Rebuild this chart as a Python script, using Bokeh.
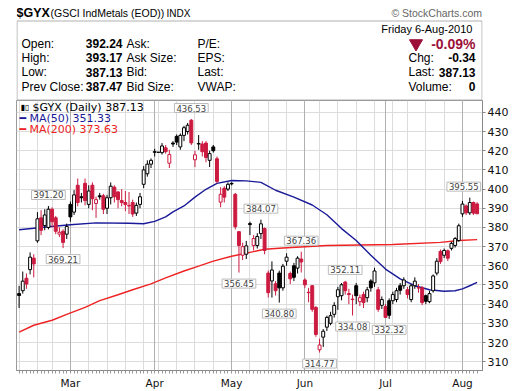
import numpy as np
from bokeh.plotting import figure
from bokeh.models import Range1d, FixedTicker, Grid, Label
from bokeh.layouts import column
from bokeh.embed import file_html
from bokeh.resources import INLINE
from bokeh.core.properties import value

# ---------------- data ----------------
prior_close = 343.0
opens = [345.5, 347.0, 353.5, 358.0, 364.0, 373.0, 385.0, 381.0, 380.0, 389.5,
         385.0, 376.5, 378.0, 376.5, 392.0, 388.0, 402.0, 396.0, 403.0, 392.0,
         402.0, 392.5, 396.5, 396.5, 390.0, 395.5, 401.0, 398.5, 394.0, 393.0,
         391.5, 393.0, 387.5, 392.0, 402.5, 408.0, 413.0, 419.5, 419.2, 419.0,
         421.5, 413.5, 424.0, 427.5, 422.0, 428.0, 430.0, 435.9, 415.3, 423.8,
         423.5, 424.0, 415.0, 422.0, 415.8, 393.2, 400.4, 400.0, 403.0, 397.3,
         377.8, 365.5, 366.0, 382.0, 370.6, 370.6, 376.8, 379.4, 356.2, 352.1,
         350.6, 356.2, 348.5, 362.4, 356.0, 360.0, 358.8, 363.5, 352.6, 346.2,
         349.6, 338.3, 316.2, 322.8, 328.0, 330.0, 334.7, 343.9, 344.4, 351.5,
         345.5, 342.6, 349.6, 341.3, 345.0, 343.4, 352.1, 351.1, 347.5, 339.4,
         338.8, 341.8, 341.8, 342.4, 349.6, 349.6, 347.5, 342.4, 349.6, 348.6,
         348.5, 344.4, 341.3, 347.0, 356.2, 367.5, 365.5, 367.8, 369.1, 370.6,
         373.2, 387.1, 391.2, 387.6, 393.0, 392.24]
highs = [349.5, 357.0, 356.0, 367.0, 366.0, 388.0, 389.0, 389.5, 391.2, 390.5,
         386.0, 380.0, 379.0, 382.0, 393.5, 399.5, 405.5, 398.0, 405.5, 402.0,
         403.5, 396.0, 398.0, 397.5, 397.0, 403.5, 402.0, 399.0, 400.0, 399.0,
         398.5, 394.5, 393.0, 398.0, 412.0, 415.0, 416.0, 421.0, 419.2, 424.0,
         423.0, 420.5, 425.0, 428.5, 429.0, 433.0, 434.5, 436.53, 420.0, 428.2,
         425.0, 425.0, 420.0, 423.0, 417.0, 401.0, 401.5, 403.5, 403.5, 398.0,
         378.0, 372.0, 373.0, 383.0, 376.0, 377.0, 384.07, 380.0, 357.5, 362.3,
         352.0, 357.5, 361.0, 366.5, 357.0, 361.5, 365.0, 367.36, 353.5, 348.5,
         350.0, 339.0, 322.0, 327.0, 334.0, 336.0, 341.0, 349.0, 351.0, 352.11,
         348.0, 345.0, 351.0, 345.0, 346.5, 349.0, 353.0, 359.0, 349.0, 344.0,
         340.0, 343.0, 346.5, 348.5, 351.0, 354.0, 349.0, 350.5, 354.0, 350.5,
         349.5, 345.0, 347.0, 355.5, 364.0, 368.5, 369.0, 368.5, 372.5, 375.0,
         382.0, 393.8, 392.0, 395.55, 393.5, 393.17]
lows = [338.0, 345.5, 348.0, 355.5, 354.0, 372.0, 376.0, 378.5, 379.0, 380.0,
        376.5, 375.0, 369.21, 374.0, 383.0, 386.5, 391.0, 393.0, 391.5, 390.0,
        389.0, 385.0, 394.5, 387.0, 387.0, 392.0, 393.0, 390.0, 391.0, 388.5,
        387.0, 385.5, 386.0, 390.0, 400.5, 406.5, 411.0, 417.0, 419.2, 418.0,
        418.5, 411.0, 422.0, 423.0, 420.5, 425.0, 428.5, 423.0, 411.5, 420.5,
        417.0, 414.0, 411.5, 419.0, 403.0, 390.5, 393.0, 399.0, 402.0, 379.0,
        356.45, 363.0, 363.5, 376.0, 368.0, 369.0, 374.0, 366.0, 343.5, 343.4,
        344.5, 340.8, 347.0, 360.0, 350.5, 352.0, 356.0, 356.5, 348.5, 341.0,
        336.0, 323.0, 314.77, 317.7, 326.0, 329.0, 333.0, 337.0, 342.0, 345.0,
        340.0, 334.08, 340.0, 339.0, 338.0, 341.0, 346.5, 349.0, 336.0, 337.5,
        333.0, 332.32, 340.0, 341.0, 345.0, 348.0, 343.0, 341.0, 348.0, 346.0,
        339.5, 340.0, 340.5, 346.0, 355.0, 361.0, 364.0, 362.5, 368.0, 369.5,
        372.5, 385.5, 386.5, 386.5, 386.5, 387.13]
closes = [344.5, 352.0, 350.5, 364.5, 361.0, 384.5, 378.5, 386.5, 389.5, 383.0,
          378.0, 377.5, 372.2, 380.5, 385.5, 397.0, 393.0, 395.5, 394.0, 399.0,
          395.0, 394.5, 396.0, 389.5, 395.5, 401.5, 396.0, 394.5, 393.0, 392.0,
          391.2, 387.0, 391.5, 396.0, 410.0, 413.0, 415.0, 419.2, 419.2, 422.5,
          419.5, 418.0, 423.5, 424.5, 428.0, 432.0, 433.3, 424.1, 417.9, 423.5,
          419.5, 416.5, 418.5, 420.0, 404.0, 397.3, 395.8, 402.5, 402.7, 380.4,
          370.6, 370.0, 370.4, 381.5, 374.2, 375.3, 381.9, 368.0, 346.0, 357.8,
          347.0, 348.5, 359.8, 364.5, 353.2, 354.0, 364.0, 362.0, 350.1, 346.0,
          337.3, 324.2, 318.7, 325.9, 333.1, 334.0, 339.3, 347.5, 350.1, 347.0,
          345.0, 342.4, 344.4, 343.4, 340.8, 347.5, 348.5, 357.3, 337.3, 342.4,
          333.1, 334.2, 345.0, 347.0, 347.2, 352.6, 345.0, 349.6, 352.0, 348.4,
          340.8, 341.5, 345.5, 354.7, 362.4, 362.2, 368.0, 364.0, 371.7, 374.2,
          380.9, 392.2, 387.6, 393.0, 387.47, 387.13]

ma50_idx = [0, 8, 14, 21, 30, 34, 37, 40, 42, 45, 48, 51, 54, 58, 62, 66, 70, 75,
            80, 84, 88, 92, 96, 100, 104, 108, 112, 116, 119, 121, 123, 125]
ma50_val = [378.8, 380.4, 381.4, 382.4, 382.2, 381.9, 383.2, 385.5, 388.1, 391.2,
            395.8, 399.9, 403.0, 404.5, 404.3, 403.5, 399.4, 395.8, 391.7, 386.6,
            379.4, 373.2, 365.5, 358.3, 353.2, 349.6, 347.5, 346.7, 347.0, 348.0,
            349.6, 351.33]
ma200_idx = [0, 4, 9, 13, 18, 22, 27, 31, 36, 40, 45, 49, 53, 58, 63, 67, 72, 84,
             102, 115, 120, 125]
ma200_val = [325.4, 329.0, 331.6, 334.7, 338.3, 341.8, 344.9, 347.5, 350.6, 353.7,
             357.3, 359.8, 362.4, 365.0, 367.0, 368.6, 369.3, 370.6, 371.1, 372.2,
             373.2, 373.63]

month_idx = [14, 37, 58, 78, 100, 121]
month_lbl = ["Mar", "Apr", "May", "Jun", "Jul", "Aug"]
week_idx = [0, 5, 9, 14, 19, 24, 29, 34, 38, 43, 48, 53, 58, 63, 68, 73, 78, 82,
            87, 92, 97, 102, 106, 111, 116, 121]
y_ticks = [310, 320, 330, 340, 350, 360, 370, 380, 390, 400, 410, 420, 430, 440]

ann_idx = [8, 12, 47, 60, 66, 71, 77, 82, 89, 91, 101, 123]
ann_side = ["high", "low", "high", "low", "high", "low", "high", "low", "high",
            "low", "low", "high"]

info_labels_1 = ["Open:", "High:", "Low:", "Prev Close:"]
info_values_1 = ["392.24", "393.17", "387.13", "387.47"]
info_labels_2 = ["Ask:", "Ask Size:", "Bid:", "Bid Size:"]
info_labels_3 = ["P/E:", "EPS:", "Last:", "VWAP:"]
quote_labels = ["Chg:", "Last:", "Volume:"]
quote_values = ["-0.34", "387.13", "0"]
pct_change = "-0.09%"
quote_date = "Friday  6-Aug-2010"

RED = "#cc1a40"
BLACK = "#000000"
HFONT = "Liberation Sans"
CFONT = "DejaVu Sans"

# frame of both figures: x from 16 to 482 px
W, HH, CH = 520, 100, 291
BL, BR = 16, 38

# ---------------- header ----------------
hdr = figure(width=W, height=HH, x_range=Range1d(BL, W - BR), y_range=Range1d(HH, 0),
             toolbar_location=None, output_backend="svg",
             min_border_left=BL, min_border_right=BR, min_border_top=0,
             min_border_bottom=0, x_axis_location=None, y_axis_location=None,
             outline_line_color=None)
hdr.grid.visible = False


def htext(x, y, t, size="12px", style="normal", align="left", color="black", font=HFONT):
    hdr.text(x=[x], y=[y], text=[t], text_font=value(font), text_font_size=size,
             text_font_style=style, text_align=align, text_baseline="middle",
             text_color=color)


htext(16, 12.5, "$GYX", size="12.5px", style="bold")
htext(50, 12.5, "(GSCI IndMetals (EOD))", size="10.5px")
htext(166, 12.5, "INDX", size="10px")
htext(481.5, 12, "\u00a9 StockCharts.com", size="10.5px", align="right", color="#666666")

hdr.quad(left=[16.5], right=[481.5], top=[20.5], bottom=[99.5], fill_color=None,
         line_color="#b0b0b0")

rows_y = [43.3, 57.3, 71.7, 86.0]
for k in range(4):
    htext(21, rows_y[k], info_labels_1[k])
    htext(122, rows_y[k], info_values_1[k], size="12px", style="bold", align="right")
    htext(126, rows_y[k], info_labels_2[k])
    htext(197, rows_y[k], info_labels_3[k])

htext(475, 28.3, quote_date, size="11px", align="right")
htext(475, 43.3, pct_change, size="14px", style="bold", align="right", color="#9c0f38")
hdr.scatter(x=[415.5], y=[43], marker="inverted_triangle", size=13,
            fill_color="#9c0f38", line_color="#9c0f38")
for k in range(3):
    htext(408, rows_y[k + 1], quote_labels[k])
    htext(475, rows_y[k + 1], quote_values[k], size="12px", style="bold", align="right")

# ---------------- chart ----------------
p = figure(width=W, height=CH, x_range=Range1d(-0.71, 126.47),
           y_range=Range1d(305.4, 446.2), toolbar_location=None, output_backend="svg",
           min_border_left=BL, min_border_right=BR, min_border_top=0,
           min_border_bottom=17, x_axis_location="below", y_axis_location="right",
           outline_line_color="#9a9a9a")

n = len(closes)
idx = np.arange(n)
o = np.array(opens)
h = np.array(highs)
lo = np.array(lows)
c = np.array(closes)
prev = np.concatenate([[prior_close], c[:-1]])
col = np.where(c >= prev, BLACK, RED)
fill = np.where(c > o, "white", col)

xa = p.xaxis[0]
xa.ticker = FixedTicker(ticks=month_idx, minor_ticks=list(range(n)))
xa.major_label_overrides = {int(i): m for i, m in zip(month_idx, month_lbl)}
xa.major_tick_out = 0
xa.major_tick_in = 0
xa.minor_tick_out = 3
xa.minor_tick_in = 0
xa.major_label_standoff = 3
xa.axis_line_color = "#888888"
xa.minor_tick_line_color = "#999999"
xa.major_label_text_font = CFONT
xa.major_label_text_font_size = "10.5px"
xa.major_label_text_color = "#111111"

ya = p.yaxis[0]
ya.ticker = FixedTicker(ticks=y_ticks)
ya.major_tick_out = 3
ya.major_tick_in = 0
ya.minor_tick_out = 0
ya.minor_tick_in = 0
ya.major_label_standoff = 2
ya.axis_line_color = "#888888"
ya.major_tick_line_color = "#888888"
ya.major_label_text_font = CFONT
ya.major_label_text_font_size = "11px"
ya.major_label_text_color = "#111111"

p.xgrid.ticker = FixedTicker(ticks=week_idx)
p.xgrid.grid_line_color = "#dcdcdc"
p.ygrid.ticker = FixedTicker(ticks=y_ticks)
p.ygrid.grid_line_color = "#dcdcdc"
p.add_layout(Grid(dimension=0, ticker=FixedTicker(ticks=month_idx),
                  grid_line_color="#b0b0b0"))

# moving averages
p.line(ma200_idx, ma200_val, line_color="#ee2222", line_width=1.4)
p.line(ma50_idx, ma50_val, line_color="#1a1a99", line_width=1.4)

# candles
p.segment(x0=idx, y0=lo, x1=idx, y1=h, line_color=col, line_width=1)
p.vbar(x=idx, width=0.8, top=np.maximum(o, c), bottom=np.minimum(o, c),
       fill_color=fill, line_color=col, line_width=1)

# legend text (anchored at the frame's top-left corner)
x0, y1 = p.x_range.start, p.y_range.end
p.text(x=[x0], y=[y1], text=["\u25ae\u25af"], x_offset=4, y_offset=7,
       text_font=value(CFONT), text_font_size="8px", text_baseline="middle",
       text_color="black")
p.text(x=[x0], y=[y1], text=["$GYX (Daily) %.2f" % closes[-1]], x_offset=16, y_offset=7,
       text_font=value(CFONT), text_font_size="11px", text_baseline="middle",
       text_color="black")
p.text(x=[x0], y=[y1], text=["\u2501"], x_offset=3, y_offset=18,
       text_font=value(CFONT), text_font_size="11px", text_baseline="middle",
       text_color="#1a1a99")
p.text(x=[x0], y=[y1], text=["MA(50) %.2f" % ma50_val[-1]], x_offset=13, y_offset=18,
       text_font=value(CFONT), text_font_size="11px", text_baseline="middle",
       text_color="#1a1a99")
p.text(x=[x0], y=[y1], text=["\u2501"], x_offset=3, y_offset=29,
       text_font=value(CFONT), text_font_size="11px", text_baseline="middle",
       text_color="#ee2222")
p.text(x=[x0], y=[y1], text=["MA(200) %.2f" % ma200_val[-1]], x_offset=13, y_offset=29,
       text_font=value(CFONT), text_font_size="11px", text_baseline="middle",
       text_color="#ee2222")

# high / low annotations (labels near the right edge are nudged left to stay inside)
for i, side in zip(ann_idx, ann_side):
    v = highs[i] if side == "high" else lows[i]
    lab = Label(x=i, y=v, y_offset=11 if side == "high" else -11,
                x_offset=-6 if i > n - 6 else 0,
                text="%.2f" % v, text_font=CFONT, text_font_size="8.5px",
                text_align="center", text_baseline="middle",
                background_fill_color="white", border_line_color="#bbbbbb",
                padding=(2, 1))
    p.add_layout(lab)

layout = column(hdr, p, spacing=0)
open("out.html", "w").write(file_html(layout, INLINE))
